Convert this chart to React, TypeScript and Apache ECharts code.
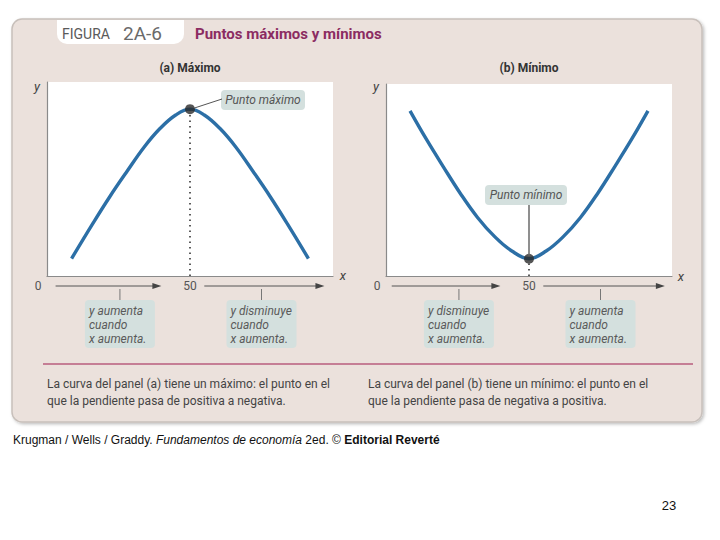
import React, { useEffect, useRef } from "react";
import * as echarts from "echarts";

// Panel (a): maximum curve
const xMax = [8.6, 16, 22, 28, 34, 39.5, 45, 50, 55, 60.5, 66, 72, 78, 84, 91.4];
const yMax = [9, 27, 41, 54, 66.5, 76, 83, 86, 83, 76, 66.5, 54, 41, 27, 9];
const peakPoint = [50, 86];

// Panel (b): minimum curve
const xMin = [8.4, 14, 20, 26, 32, 38, 44, 50, 56, 62, 68, 74, 80, 86, 91.6];
const yMin = [86, 71.5, 57, 43, 30.5, 20.5, 13, 9, 13, 20.5, 30.5, 43, 57, 71.5, 86];
const minPoint = [50, 9];

// x-axis markers
const axisTickLabels = ["0", "50"];
const arrowSegmentsA = [[3, 40], [55, 97]];
const arrowSegmentsB = [[2, 40], [55, 97.5]];
const calloutTicks = [25.5, 75];
const calloutsA = [
  ["y aumenta", "cuando", "x aumenta."],
  ["y disminuye", "cuando", "x aumenta."],
];
const calloutsB = [
  ["y disminuye", "cuando", "x aumenta."],
  ["y aumenta", "cuando", "x aumenta."],
];

const NARROW = "'Liberation Sans Narrow', 'Roboto', sans-serif";
const BLUE = "#2c6fa6";
const BOX = "#d4e0de";
const AX = "#8a8a8a";

function zip(xs: number[], ys: number[]) {
  return xs.map((x, i) => [x, ys[i]]);
}

export default function App() {
  const ref = useRef<HTMLDivElement>(null);
  useEffect(() => {
    if (!ref.current) return;
    const chart = echarts.init(ref.current, null, { renderer: "svg" });
    const axisCommon = {
      type: "value" as const,
      min: 0,
      max: 100,
      axisLine: { show: true, lineStyle: { color: AX, width: 1.2 } },
      axisTick: { show: false },
      axisLabel: { show: false },
      splitLine: { show: false },
    };
    const option: any = {
      animation: false,
      grid: [
        { left: 47, top: 82, width: 286, height: 194, show: true, backgroundColor: "#ffffff", borderWidth: 0 },
        { left: 386, top: 84, width: 286, height: 192, show: true, backgroundColor: "#ffffff", borderWidth: 0 },
      ],
      xAxis: [
        { ...axisCommon, gridIndex: 0 },
        { ...axisCommon, gridIndex: 1 },
      ],
      yAxis: [
        { ...axisCommon, gridIndex: 0 },
        { ...axisCommon, gridIndex: 1 },
      ],
      series: [
        {
          type: "line", xAxisIndex: 0, yAxisIndex: 0,
          data: [[peakPoint[0], 0], peakPoint], symbol: "none",
          lineStyle: { color: "#333", width: 1.6, type: [1.5, 4] }, z: 3,
        },
        {
          type: "line", xAxisIndex: 0, yAxisIndex: 0, data: zip(xMax, yMax),
          smooth: 0.4, symbol: "none", lineStyle: { color: BLUE, width: 3.4 }, z: 4,
        },
        {
          type: "scatter", xAxisIndex: 0, yAxisIndex: 0, data: [peakPoint],
          symbolSize: 10, itemStyle: { color: "#2b2b2b" }, z: 6,
        },
        {
          type: "line", xAxisIndex: 1, yAxisIndex: 1,
          data: [[minPoint[0], 0], minPoint], symbol: "none",
          lineStyle: { color: "#333", width: 1.6, type: [1.5, 4] }, z: 3,
        },
        {
          type: "line", xAxisIndex: 1, yAxisIndex: 1, data: zip(xMin, yMin),
          smooth: 0.4, symbol: "none", lineStyle: { color: BLUE, width: 3.4 }, z: 4,
        },
        {
          type: "scatter", xAxisIndex: 1, yAxisIndex: 1, data: [minPoint],
          symbolSize: 10, itemStyle: { color: "#2b2b2b" }, z: 6,
        },
      ],
    };
    chart.setOption(option);

    const px = (g: number, v: number) => chart.convertToPixel({ gridIndex: g } as any, [v, 0]) as number[];
    const pt = (g: number, p: number[]) => chart.convertToPixel({ gridIndex: g } as any, p) as number[];

    const g: any[] = [];
    // outer card
    g.push({
      type: "rect", z: -10, shape: { x: 12, y: 19, width: 690, height: 403, r: 10 },
      style: { fill: "#ebe1dc", stroke: "#c8c0bb", lineWidth: 1.5, shadowBlur: 3, shadowOffsetX: 1.5, shadowOffsetY: 1.5, shadowColor: "rgba(0,0,0,0.25)" },
    });
    g.push({
      type: "rect", z: -9, shape: { x: 57, y: 20, width: 127, height: 24, r: [0, 0, 10, 10] },
      style: { fill: "#ffffff" },
    });
    g.push({ type: "text", z: 10, style: { x: 62, y: 34, text: "FIGURA", fill: "#5a5a5a", font: `14px ${NARROW}`, verticalAlign: "middle" } });
    g.push({ type: "text", z: 10, style: { x: 123, y: 33, text: "2A-6", fill: "#6a6a6a", font: `19px ${NARROW}`, verticalAlign: "middle" } });
    g.push({ type: "text", z: 10, style: { x: 195, y: 34, text: "Puntos máximos y mínimos", fill: "#8b2c62", font: `bold 15px ${NARROW}`, verticalAlign: "middle" } });

    // panel titles
    g.push({ type: "text", z: 10, style: { x: 190, y: 68, text: "(a) Máximo", fill: "#333", font: `bold 12px ${NARROW}`, align: "center", verticalAlign: "middle" } });
    g.push({ type: "text", z: 10, style: { x: 529, y: 68, text: "(b) Mínimo", fill: "#333", font: `bold 12px ${NARROW}`, align: "center", verticalAlign: "middle" } });

    // axis names
    const italic = `italic 13px ${NARROW}`;
    g.push({ type: "text", z: 10, style: { x: 37, y: 86, text: "y", fill: "#444", font: italic, align: "center", verticalAlign: "middle" } });
    g.push({ type: "text", z: 10, style: { x: 376, y: 86, text: "y", fill: "#444", font: italic, align: "center", verticalAlign: "middle" } });
    g.push({ type: "text", z: 10, style: { x: 343, y: 275, text: "x", fill: "#444", font: italic, align: "center", verticalAlign: "middle" } });
    g.push({ type: "text", z: 10, style: { x: 681, y: 276, text: "x", fill: "#444", font: italic, align: "center", verticalAlign: "middle" } });

    const rowY = 286;
    const addPanelAxis = (gi: number, segs: number[][], callouts: string[][]) => {
      const x0 = px(gi, 0)[0];
      const x50 = px(gi, 50)[0];
      g.push({ type: "text", z: 10, style: { x: x0 - 9, y: rowY, text: axisTickLabels[0], fill: "#555", font: `12px ${NARROW}`, align: "center", verticalAlign: "middle" } });
      g.push({ type: "text", z: 10, style: { x: x50, y: rowY, text: axisTickLabels[1], fill: "#555", font: `12px ${NARROW}`, align: "center", verticalAlign: "middle" } });
      segs.forEach(([a, b]) => {
        const xa = px(gi, a)[0];
        const xb = px(gi, b)[0];
        g.push({ type: "line", z: 10, shape: { x1: xa, y1: rowY, x2: xb - 6, y2: rowY }, style: { stroke: "#555", lineWidth: 1 } });
        g.push({ type: "polygon", z: 10, shape: { points: [[xb, rowY], [xb - 9, rowY - 3], [xb - 9, rowY + 3]] }, style: { fill: "#444" } });
      });
      calloutTicks.forEach((t, i) => {
        const xt = px(gi, t)[0];
        g.push({ type: "line", z: 10, shape: { x1: xt, y1: 289, x2: xt, y2: 300 }, style: { stroke: "#777", lineWidth: 1 } });
        g.push({ type: "rect", z: 9, shape: { x: xt - 35, y: 300, width: 70, height: 48, r: 4 }, style: { fill: BOX } });
        callouts[i].forEach((line, k) => {
          g.push({ type: "text", z: 10, style: { x: xt - 31, y: 311 + k * 14, text: line, fill: "#5a5a5a", font: `italic 12px ${NARROW}`, verticalAlign: "middle" } });
        });
      });
    };
    addPanelAxis(0, arrowSegmentsA, calloutsA);
    addPanelAxis(1, arrowSegmentsB, calloutsB);

    // Punto máximo annotation
    const pk = pt(0, peakPoint);
    g.push({ type: "line", z: 10, shape: { x1: pk[0] + 4, y1: pk[1] - 1, x2: 222, y2: 99 }, style: { stroke: "#555", lineWidth: 1 } });
    g.push({ type: "rect", z: 9, shape: { x: 221, y: 90, width: 84, height: 20, r: 4 }, style: { fill: BOX } });
    g.push({ type: "text", z: 10, style: { x: 263, y: 100, text: "Punto máximo", fill: "#555", font: `italic 12px ${NARROW}`, align: "center", verticalAlign: "middle" } });

    // Punto mínimo annotation
    const mn = pt(1, minPoint);
    g.push({ type: "line", z: 10, shape: { x1: mn[0], y1: 205, x2: mn[0], y2: mn[1] - 3 }, style: { stroke: "#6a6a6a", lineWidth: 1.5 } });
    g.push({ type: "rect", z: 9, shape: { x: mn[0] - 44, y: 185, width: 82, height: 20, r: 4 }, style: { fill: BOX } });
    g.push({ type: "text", z: 10, style: { x: mn[0] - 3, y: 195, text: "Punto mínimo", fill: "#555", font: `italic 12px ${NARROW}`, align: "center", verticalAlign: "middle" } });

    // divider and captions
    g.push({ type: "line", z: 10, shape: { x1: 43, y1: 364, x2: 693, y2: 364 }, style: { stroke: "#b85c7e", lineWidth: 1.5 } });
    const cap = `12px ${NARROW}`;
    g.push({ type: "text", z: 10, style: { x: 47, y: 384, text: "La curva del panel (a) tiene un máximo: el punto en el", fill: "#444", font: cap, verticalAlign: "middle" } });
    g.push({ type: "text", z: 10, style: { x: 47, y: 401, text: "que la pendiente pasa de positiva a negativa.", fill: "#444", font: cap, verticalAlign: "middle" } });
    g.push({ type: "text", z: 10, style: { x: 368, y: 384, text: "La curva del panel (b) tiene un mínimo: el punto en el", fill: "#444", font: cap, verticalAlign: "middle" } });
    g.push({ type: "text", z: 10, style: { x: 368, y: 401, text: "que la pendiente pasa de negativa a positiva.", fill: "#444", font: cap, verticalAlign: "middle" } });

    // footer
    g.push({
      type: "text", z: 10,
      style: {
        x: 13, y: 440, verticalAlign: "middle",
        text: "Krugman / Wells / Graddy. {i|Fundamentos de economía} 2ed. © {b|Editorial Reverté}",
        font: "12px 'Liberation Sans', Arial, sans-serif", fill: "#111",
        rich: {
          i: { fontStyle: "italic", fontSize: 12, fontFamily: "'Liberation Sans', Arial, sans-serif", fill: "#111" },
          b: { fontWeight: "bold", fontSize: 12, fontFamily: "'Liberation Sans', Arial, sans-serif", fill: "#111" },
        },
      },
    });
    g.push({ type: "text", z: 10, style: { x: 669, y: 505, text: "23", fill: "#111", font: "13px 'Liberation Sans', Arial, sans-serif", align: "center", verticalAlign: "middle" } });

    chart.setOption({ graphic: g });
    return () => chart.dispose();
  }, []);
  return (
    <div
      ref={ref}
      style={{ position: "fixed", left: 0, top: 0, width: 720, height: 540, background: "#ffffff" }}
    />
  );
}
